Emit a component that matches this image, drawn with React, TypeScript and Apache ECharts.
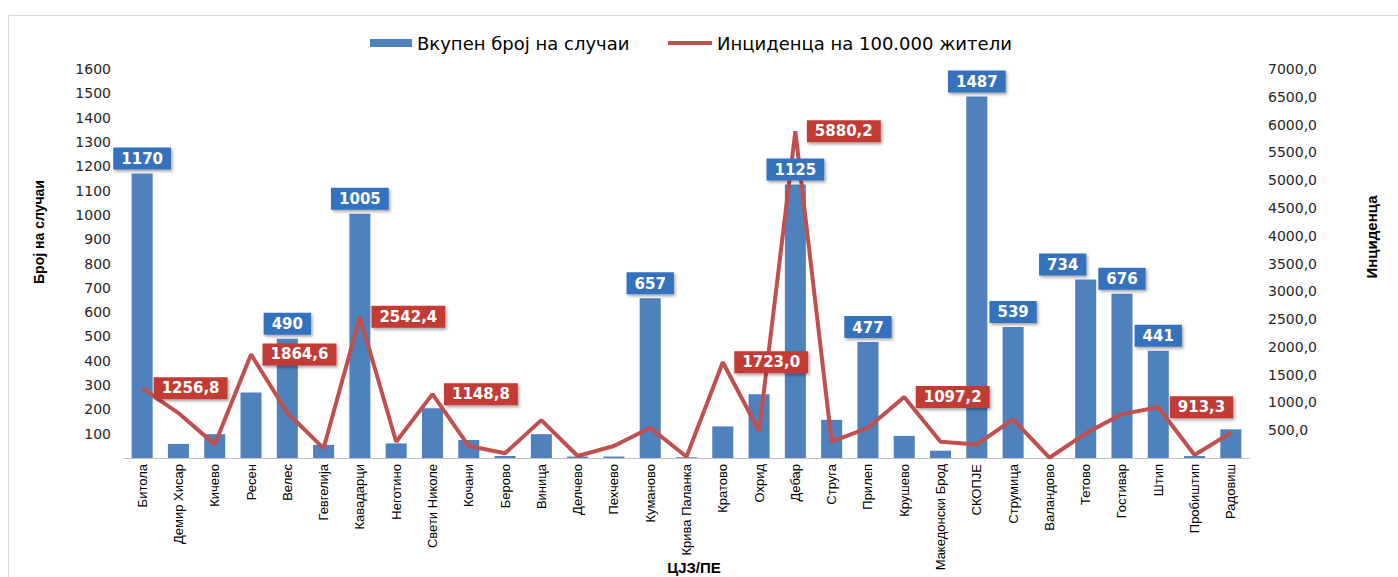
import React, { useEffect, useRef } from 'react';
import * as echarts from 'echarts';

const categories = [
  'Битола', 'Демир Хисар', 'Кичево', 'Ресен', 'Велес', 'Гевгелија', 'Кавадарци', 'Неготино',
  'Свети Николе', 'Кочани', 'Берово', 'Виница', 'Делчево', 'Пехчево', 'Куманово', 'Крива Паланка',
  'Кратово', 'Охрид', 'Дебар', 'Струга', 'Прилеп', 'Крушево', 'Македонски Брод', 'СКОПЈЕ',
  'Струмица', 'Валандово', 'Тетово', 'Гостивар', 'Штип', 'Пробиштип', 'Радовиш',
];

const cases = [
  1170, 58, 98, 269, 490, 54, 1005, 60, 205, 74, 8, 98, 6, 6, 657, 3,
  130, 262, 1125, 157, 477, 91, 30, 1487, 539, 0, 734, 676, 441, 8, 118,
];

const incidence = [
  1256.8, 808, 245, 1864.6, 814, 174, 2542.4, 293, 1148.8, 215, 84, 682, 36, 215, 544, 23,
  1723.0, 485, 5880.2, 293, 544, 1097.2, 293, 245, 694, 5, 443, 790, 913.3, 54, 454,
];

const casesLabelled = ['Битола', 'Велес', 'Кавадарци', 'Куманово', 'Дебар', 'Прилеп', 'СКОПЈЕ', 'Струмица', 'Тетово', 'Гостивар', 'Штип'];
const incidenceLabelled = ['Битола', 'Ресен', 'Кавадарци', 'Свети Николе', 'Кратово', 'Дебар', 'Крушево', 'Штип'];

const leftAxis = { min: 0, max: 1600, interval: 100 };
const rightAxis = { min: 0, max: 7000, interval: 500 };

const seriesNames = ['Вкупен број на случаи', 'Инциденца на 100.000 жители'];
const titles = { left: 'Број на случаи', right: 'Инциденца', x: 'ЦЈЗ/ПЕ' };

const fmt1 = (v: number) => v.toFixed(1).replace('.', ',');

export default function App() {
  const ref = useRef<HTMLDivElement>(null);
  useEffect(() => {
    const chart = echarts.init(ref.current!, null, { renderer: 'svg' });
    const boxShadow = { shadowColor: 'rgba(0,0,0,0.35)', shadowBlur: 3, shadowOffsetX: 1.5, shadowOffsetY: 2 };
    const barLabelData = cases.map((v, i) => {
      const name = categories[i];
      if (!casesLabelled.includes(name)) return v;
      return { value: v, label: { show: true, offset: name === 'Тетово' ? [-23, 0] : [0, 0] } };
    });
    const lineData = incidence.map((v, i) =>
      incidenceLabelled.includes(categories[i]) ? { value: v, label: { show: true } } : v
    );
    const legendText = { fontSize: 18, color: '#000', fontFamily: 'DejaVu Sans, sans-serif' };
    chart.setOption({
      animation: false,
      textStyle: { fontFamily: 'DejaVu Sans, Verdana, sans-serif' },
      grid: { left: 124, right: 149, top: 69, bottom: 119 },
      legend: [
        {
          data: [{ name: seriesNames[0], icon: 'rect' }],
          left: 365, top: 29, itemWidth: 42, itemHeight: 8,
          textStyle: legendText,
        },
        {
          data: [{ name: seriesNames[1], icon: 'rect' }],
          left: 663, top: 29, itemWidth: 44, itemHeight: 4,
          textStyle: legendText,
        },
      ],
      xAxis: {
        type: 'category',
        data: categories,
        axisTick: { show: false },
        axisLine: { lineStyle: { color: '#bfbfbf', width: 1 } },
        axisLabel: {
          rotate: 90, interval: 0, margin: 6, fontSize: 13, color: '#000',
          fontFamily: 'Liberation Sans, Arial, sans-serif',
        },
      },
      yAxis: [
        {
          type: 'value', ...leftAxis,
          splitLine: { show: false }, axisLine: { show: false }, axisTick: { show: false },
          axisLabel: { showMinLabel: false, fontSize: 14, color: '#262626', margin: 13, formatter: (v: number) => String(v) },
        },
        {
          type: 'value', ...rightAxis,
          splitLine: { show: false }, axisLine: { show: false }, axisTick: { show: false },
          axisLabel: { showMinLabel: false, fontSize: 14, color: '#262626', margin: 19, formatter: (v: number) => fmt1(v) },
        },
      ],
      series: [
        {
          type: 'bar',
          name: seriesNames[0],
          data: cases,
          barCategoryGap: '42%',
          itemStyle: { color: '#4f81bd' },
          z: 2,
        },
        {
          type: 'line',
          name: seriesNames[1],
          yAxisIndex: 1,
          data: lineData,
          symbol: 'circle', symbolSize: 1, showSymbol: true,
          lineStyle: { width: 4, color: '#c0504d' },
          itemStyle: { color: '#c0504d' },
          label: {
            show: false, position: 'right', distance: 11, color: '#fff', fontWeight: 'bold', fontSize: 15,
            fontFamily: 'DejaVu Sans, sans-serif',
            formatter: (p: any) => fmt1(p.value),
            backgroundColor: '#c23b36', padding: [4, 8, 3, 8], ...boxShadow,
          },
          z: 3,
        },
        {
          type: 'bar',
          name: 'labels',
          data: barLabelData,
          barCategoryGap: '42%',
          barGap: '-100%',
          silent: true,
          itemStyle: { color: 'rgba(0,0,0,0)' },
          label: {
            show: false, position: 'top', distance: 4, color: '#fff', fontWeight: 'bold', fontSize: 15,
            fontFamily: 'DejaVu Sans, sans-serif',
            backgroundColor: '#3572bd', padding: [4, 8, 3, 8], ...boxShadow,
          },
          z: 4,
        },
      ],
      graphic: [
        {
          type: 'rect', silent: true, z: -10,
          shape: { x: 8.5, y: 15.5, width: 1500, height: 700 },
          style: { fill: 'none', stroke: '#d9d9d9', lineWidth: 1 },
        },
        {
          type: 'text', x: 39, y: 232, rotation: Math.PI / 2,
          style: {
            text: titles.left, fontSize: 14, fontWeight: 'bold', fill: '#000',
            fontFamily: 'Liberation Sans, Arial, sans-serif', align: 'center', verticalAlign: 'middle',
          },
        },
        {
          type: 'text', x: 1371, y: 237, rotation: Math.PI / 2,
          style: {
            text: titles.right, fontSize: 15, fontWeight: 'bold', fill: '#000',
            fontFamily: 'Liberation Sans, Arial, sans-serif', align: 'center', verticalAlign: 'middle',
          },
        },
        {
          type: 'text', x: 694, y: 567,
          style: {
            text: titles.x, fontSize: 15, fontWeight: 'bold', fill: '#000',
            fontFamily: 'Liberation Sans, Arial, sans-serif', align: 'center', verticalAlign: 'middle',
          },
        },
      ],
    });
    return () => chart.dispose();
  }, []);
  return <div ref={ref} style={{ position: 'absolute', left: 0, top: 0, width: 1398, height: 577 }} />;
}
